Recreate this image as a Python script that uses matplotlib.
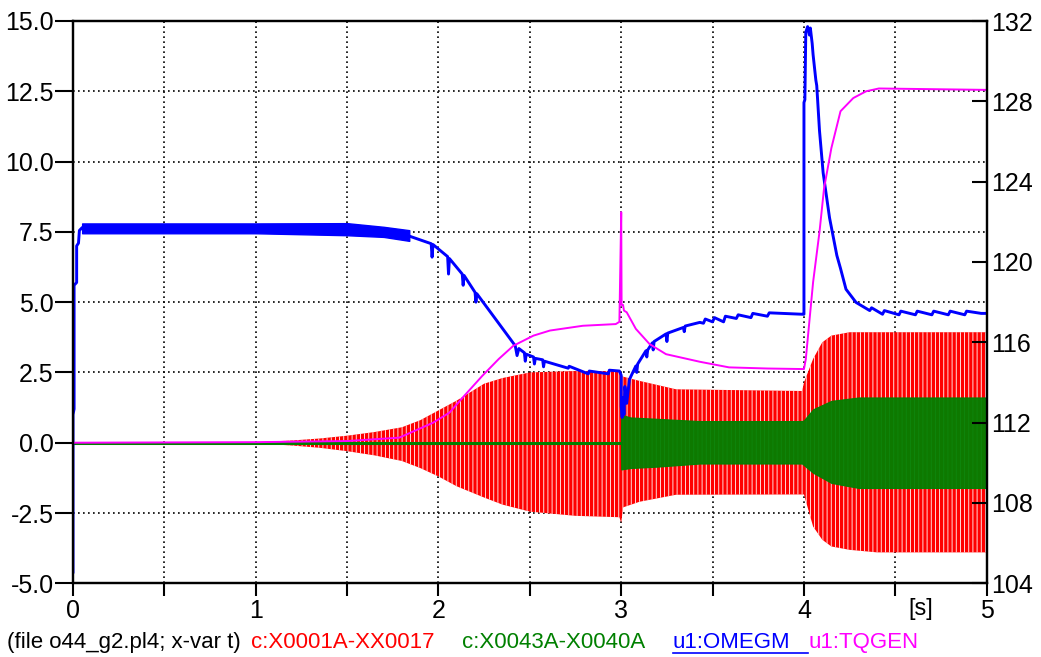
import matplotlib
matplotlib.use("Agg")
import matplotlib.pyplot as plt
from matplotlib.lines import Line2D
import numpy as np

plt.rcParams['font.family'] = ['Liberation Sans', 'DejaVu Sans']
plt.rcParams['axes.unicode_minus'] = False
plt.rcParams['hatch.linewidth'] = 0.6

# u1:OMEGM (blue) - thick band while the machine runs steady
omegm_t = [0.0, 0.0, 0.006, 0.006, 0.02, 0.02, 0.03, 0.035, 0.05, 1.5, 1.7, 1.84,
           1.96, 1.965, 1.97, 2.05, 2.055, 2.06, 2.13, 2.135, 2.14, 2.2, 2.205, 2.21,
           2.42, 2.43, 2.44, 2.47, 2.475, 2.48, 2.52, 2.525, 2.53, 2.57, 2.575, 2.58,
           2.71, 2.715, 2.82, 2.825, 2.93, 2.935, 2.99, 3.0, 3.0, 3.005, 3.01, 3.015,
           3.02, 3.03, 3.045, 3.08, 3.085, 3.09, 3.135, 3.14, 3.145, 3.17, 3.175, 3.18,
           3.245, 3.25, 3.255, 3.34, 3.345, 3.35, 3.43, 3.45, 3.46, 3.5, 3.51, 3.56,
           3.57, 3.63, 3.64, 3.71, 3.72, 3.8, 3.81, 3.99, 4.0, 4.0, 4.005, 4.01, 4.02,
           4.03, 4.035, 4.045, 4.05, 4.06, 4.065, 4.07, 4.085, 4.105, 4.14, 4.18, 4.2,
           4.23, 4.285, 4.36, 4.37, 4.43, 4.44, 4.52, 4.53, 4.61, 4.62, 4.7, 4.71,
           4.79, 4.8, 4.88, 4.89, 4.97, 5.0]
omegm_v = [-4.6, 1.0, 1.2, 5.6, 5.7, 7.0, 7.1, 7.55, 7.65, 7.6, 7.5, 7.35,
           7.08, 6.6, 7.05, 6.62, 6.0, 6.55, 6.0, 5.6, 5.95, 5.35, 5.0, 5.3,
           3.45, 3.1, 3.35, 3.2, 2.9, 3.15, 3.05, 2.8, 3.0, 2.95, 2.7, 2.9,
           2.65, 2.72, 2.45, 2.55, 2.45, 2.58, 2.55, 2.4, 1.3, 0.9, 1.6, 1.0,
           2.0, 1.4, 2.25, 2.73, 2.5, 2.8, 3.27, 3.05, 3.3, 3.55, 3.3, 3.6,
           3.87, 3.6, 3.9, 4.1, 3.95, 4.15, 4.28, 4.25, 4.4, 4.3, 4.45, 4.3,
           4.5, 4.42, 4.55, 4.45, 4.6, 4.5, 4.62, 4.57, 4.57, 12.1, 12.2, 14.6, 14.8,
           14.5, 14.75, 14.2, 13.8, 13.2, 12.9, 12.7, 11.1, 9.6, 8.0, 6.66, 6.2,
           5.46, 4.99, 4.7, 4.8, 4.57, 4.7, 4.55, 4.68, 4.55, 4.68, 4.55, 4.68,
           4.55, 4.68, 4.55, 4.68, 4.6, 4.6]
omegm_band_t = [0.05, 0.5, 1.0, 1.5, 1.7, 1.84]
omegm_band_lo = [7.45, 7.45, 7.45, 7.38, 7.32, 7.18]
omegm_band_hi = [7.8, 7.8, 7.8, 7.81, 7.68, 7.56]

# u1:TQGEN (magenta)
tqgen_t = [0.0, 1.0, 1.5, 1.785, 1.97, 2.06, 2.14, 2.24, 2.33, 2.41, 2.52, 2.61,
           2.79, 2.97, 2.99, 3.0, 3.002, 3.01, 3.015, 3.03, 3.08, 3.155, 3.245, 3.43,
           3.59, 3.8, 4.0, 4.01, 4.05, 4.085, 4.11, 4.15, 4.2, 4.27, 4.34, 4.41, 5.0]
tqgen_v = [0.0, 0.02, 0.06, 0.18, 0.71, 1.07, 1.66, 2.38, 2.98, 3.45, 3.81, 3.99,
           4.16, 4.22, 4.3, 8.2, 4.9, 4.9, 4.7, 4.64, 4.05, 3.51, 3.15, 2.88,
           2.68, 2.64, 2.62, 2.97, 5.71, 7.5, 9.05, 10.48, 11.79, 12.26, 12.5, 12.6, 12.55]

# c:X0001A-XX0017 (red) oscillation envelope
x1_t = [0.0, 1.0, 1.2, 1.35, 1.5, 1.65, 1.8, 1.9, 2.0, 2.1, 2.25, 2.35, 2.5, 2.75,
        2.99, 3.0, 3.01, 3.1, 3.3, 3.99, 4.0, 4.05, 4.1, 4.15, 4.25, 4.4, 5.0]
x1_hi = [0.0, 0.02, 0.08, 0.15, 0.25, 0.38, 0.55, 0.8, 1.15, 1.5, 2.1, 2.3, 2.5, 2.55,
         2.55, 2.4, 2.35, 2.2, 1.9, 1.84, 2.14, 2.98, 3.57, 3.81, 3.93, 3.93, 3.93]
x1_lo = [0.0, -0.02, -0.1, -0.18, -0.3, -0.45, -0.65, -0.9, -1.2, -1.55, -1.95, -2.2,
         -2.45, -2.6, -2.65, -2.85, -2.3, -2.1, -1.85, -1.84, -1.84, -2.98, -3.45,
         -3.69, -3.81, -3.9, -3.9]

# c:X0043A-X0040A (green) oscillation envelope
x43_t = [0.0, 2.999, 3.0, 3.05, 3.2, 3.43, 3.99, 4.0, 4.05, 4.15, 4.3, 5.0]
x43_hi = [0.0, 0.0, 1.0, 0.9, 0.85, 0.77, 0.77, 0.8, 1.19, 1.49, 1.61, 1.61]
x43_lo = [0.0, 0.0, -0.95, -0.9, -0.85, -0.74, -0.74, -0.8, -1.07, -1.43, -1.61, -1.61]

RED = '#ff0000'
GREEN = '#008000'
BLUE = '#0000ff'
MAGENTA = '#ff00ff'

W, H = 1041, 657
fig = plt.figure(figsize=(W / 100, H / 100), dpi=100)
ax = fig.add_axes([73 / W, 1 - 583.3 / H, (986.7 - 73) / W, (583.3 - 21) / H])

# oscillating signals drawn as envelopes (white hatch mimics the dense cycles)
ax.fill_between(x1_t, x1_lo, x1_hi, facecolor=RED, edgecolor='white', hatch='||||',
                lw=0, zorder=2)
ax.plot([0, 3.0], [0, 0], color=GREEN, lw=2.2, zorder=3)
ax.fill_between(x43_t, x43_lo, x43_hi, color=GREEN, alpha=0.95, lw=0.8, zorder=3)

ax.fill_between(omegm_band_t, omegm_band_lo, omegm_band_hi, color=BLUE, lw=1, zorder=4)
ax.plot(omegm_t, omegm_v, color=BLUE, lw=2.1, zorder=4)
ax.plot(tqgen_t, tqgen_v, color=MAGENTA, lw=1.4, zorder=5)

ax.set_xlim(0, 5)
ax.set_ylim(-5, 15)
ax.set_xticks(np.arange(0, 6, 1))
ax.set_xticks(np.arange(0.5, 5, 1), minor=True)
ax.set_xticklabels(['0', '1', '2', '3', '4', '5'])
ax.set_yticks(np.arange(-5, 15.1, 2.5))
ax.set_yticklabels(['%.1f' % v for v in np.arange(-5, 15.1, 2.5)])
ax.tick_params(axis='x', which='both', direction='out', length=9, width=1.5,
               labelsize=18, pad=2)
ax.tick_params(axis='y', direction='out', length=13, width=1.5, labelsize=18, pad=1)
ax.grid(True, which='both', axis='x', color='black', linestyle=(0, (1, 2)), lw=1.2)
ax.grid(True, which='major', axis='y', color='black', linestyle=(0, (1, 2)), lw=1.2)
ax.set_axisbelow(True)
for s in ax.spines.values():
    s.set_linewidth(1.6)
    s.set_zorder(10)

ax2 = ax.twinx()
ax2.set_ylim(104, 132)
ax2.set_yticks(np.arange(104, 133, 4))
ax2.tick_params(axis='y', direction='in', length=11, width=1.5, labelsize=18, pad=3)
for s in ax2.spines.values():
    s.set_linewidth(1.6)

fig.text(908 / W, 1 - 609 / H, '[s]', fontsize=17, va='center', ha='left')

# legend line under the plot
base = 1 - 648 / H
fs = 16
fig.text(7 / W, base, '(file o44_g2.pl4; x-var t)', fontsize=fs, color='black', va='baseline')
fig.text(251 / W, base, 'c:X0001A-XX0017', fontsize=fs, color=RED, va='baseline')
fig.text(462 / W, base, 'c:X0043A-X0040A', fontsize=fs, color=GREEN, va='baseline')
fig.text(673 / W, base, 'u1:OMEGM', fontsize=fs, color=BLUE, va='baseline')
fig.text(809 / W, base, 'u1:TQGEN', fontsize=fs, color=MAGENTA, va='baseline')
fig.add_artist(Line2D([673 / W, 808 / W], [1 - 653 / H, 1 - 653 / H], color=BLUE, lw=1.2))

fig.savefig('out.png', dpi=100)
